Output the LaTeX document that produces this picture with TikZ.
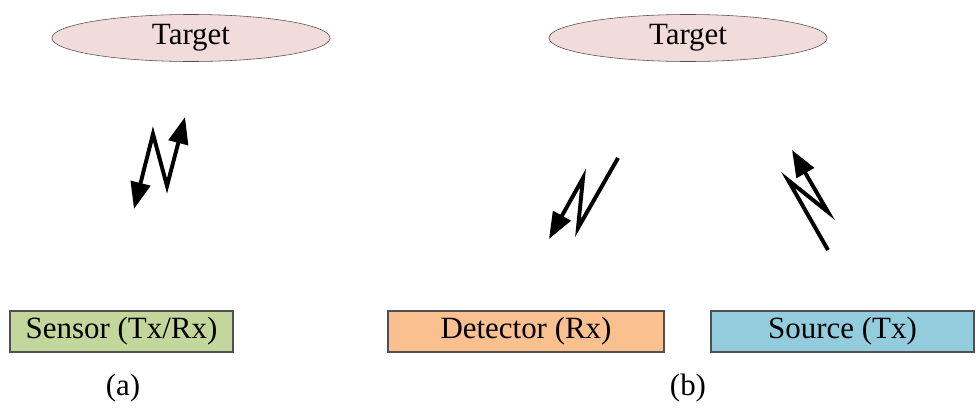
\documentclass[tikz,border=0pt]{standalone}
\usepackage{fontspec}
\setmainfont{Liberation Serif}
\usetikzlibrary{shapes.geometric,arrows.meta}

\definecolor{targetfill}{RGB}{242,220,219}
\definecolor{sensorfill}{RGB}{195,214,155}
\definecolor{detectorfill}{RGB}{250,192,144}
\definecolor{sourcefill}{RGB}{147,205,221}
\definecolor{edgegray}{RGB}{80,80,80}

\tikzset{
  target/.style = {ellipse, draw=edgegray, fill=targetfill, inner sep=0pt,
                   minimum width=6.95cm, minimum height=1.175cm, font=\fontsize{22}{26}\selectfont},
  unitbox/.style = {rectangle, draw=edgegray, thick, inner sep=0pt,
                    minimum height=1.025cm, font=\fontsize{22}{26}\selectfont},
  zigzag/.style = {line width=2.8pt, line join=miter, -{Triangle[length=19pt, width=14pt]}},
  caption/.style = {font=\fontsize{22}{26}\selectfont}
}

\begin{document}
\begin{tikzpicture}[x=0.025cm, y=-0.025cm]
  \useasboundingbox (0, 0) rectangle (976, 408);

  % (a) monostatic
  \node [target] (targetA) at (191, 38) {Target};
  \node [unitbox, fill=sensorfill, minimum width=5.575cm] (sensor) at (121.5, 331.5) {Sensor (Tx/Rx)};
  \node [caption] (capA) at (123, 388) {(a)};

  \draw [zigzag, {Triangle[length=19pt, width=14pt]}-{Triangle[length=19pt, width=14pt]}]
        (134, 209) -- (153, 134) -- (167, 186) -- (185, 117);

  % (b) bistatic
  \node [target] (targetB) at (688, 38) {Target};
  \node [unitbox, fill=detectorfill, minimum width=6.9cm] (detector) at (526, 331.5) {Detector (Rx)};
  \node [unitbox, fill=sourcefill, minimum width=6.575cm] (source) at (842.5, 331.5) {Source (Tx)};
  \node [caption] (capB) at (688, 388) {(b)};

  \draw [zigzag] (618, 158) -- (578, 228) -- (583, 178) -- (549, 239);
  \draw [zigzag] (828, 250) -- (788, 180) -- (828, 212) -- (792, 150);
\end{tikzpicture}
\end{document}
